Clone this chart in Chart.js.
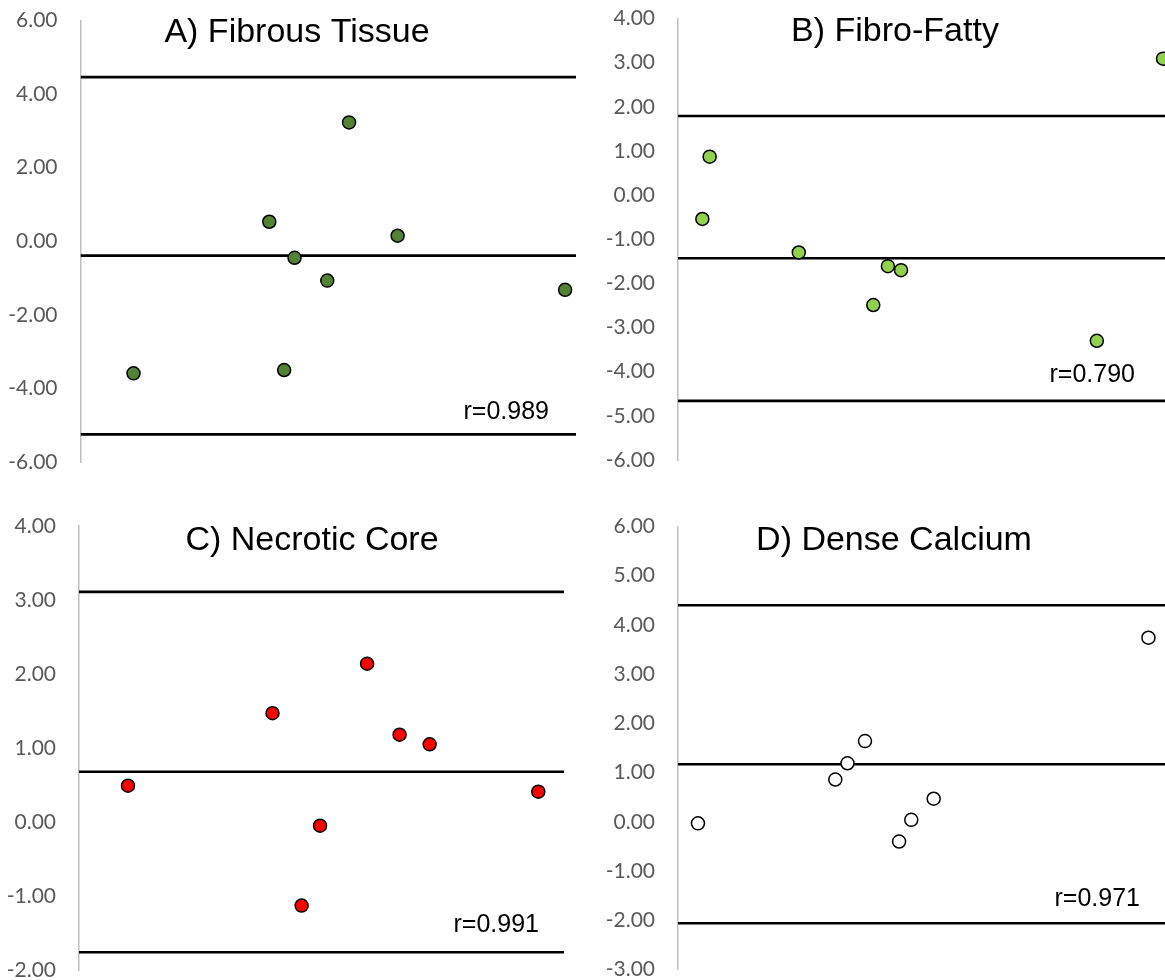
<!DOCTYPE html>
<html>
<head>
<meta charset="utf-8">
<script src="https://cdn.jsdelivr.net/npm/chart.js@4.4.1/dist/chart.umd.min.js"></script>
<style>
  body { margin: 0; background: #fff; }
  #wrap { position: relative; width: 1165px; height: 980px; overflow: hidden; }
  .cell { position: absolute; }
</style>
</head>
<body>
<div id="wrap">
  <div class="cell" style="left:0;top:0"><canvas id="chartA" width="582" height="490"></canvas></div>
  <div class="cell" style="left:582px;top:0"><canvas id="chartB" width="583" height="490"></canvas></div>
  <div class="cell" style="left:0;top:490px"><canvas id="chartC" width="582" height="490"></canvas></div>
  <div class="cell" style="left:582px;top:490px"><canvas id="chartD" width="583" height="490"></canvas></div>
</div>
<script>
// x = mean of the two measurements (arbitrary 0-100 scale, no axis shown), y = difference
const xRange = [0, 100];

// A) Fibrous Tissue
const fibrousX = [10.7, 38.1, 41.1, 43.2, 49.8, 54.2, 64.0, 97.8];
const fibrousDiff = [-3.59, 0.53, -3.50, -0.45, -1.07, 3.23, 0.15, -1.32];
const fibrousLimits = [4.46, -0.39, -5.25]; // upper LoA, mean, lower LoA

// B) Fibro-Fatty
const fattyX = [5.0, 6.5, 24.8, 40.1, 43.1, 45.8, 86.0, 99.6];
const fattyDiff = [-0.54, 0.87, -1.30, -2.49, -1.61, -1.70, -3.30, 3.09];
const fattyLimits = [1.79, -1.43, -4.66];

// C) Necrotic Core
const necroticX = [10.1, 39.9, 45.9, 49.7, 59.4, 66.1, 72.3, 94.7];
const necroticDiff = [0.49, 1.47, -1.13, -0.05, 2.14, 1.18, 1.05, 0.41];
const necroticLimits = [3.11, 0.68, -1.76];

// D) Dense Calcium
const calciumX = [4.1, 32.3, 34.8, 38.4, 45.4, 47.9, 52.5, 96.6];
const calciumDiff = [-0.03, 0.86, 1.19, 1.64, -0.40, 0.04, 0.47, 3.74];
const calciumLimits = [4.40, 1.17, -2.06];

// overlay text: title and correlation
const textPlugin = {
  id: 'panelText',
  afterDraw(chart, args, opts) {
    const c = chart.ctx;
    c.save();
    c.fillStyle = '#000';
    c.textBaseline = 'alphabetic';
    c.font = '34px "Liberation Sans", Arial, sans-serif';
    c.textAlign = 'center';
    c.fillText(opts.title, opts.titleX, opts.titleY);
    c.font = '25px "Liberation Sans", Arial, sans-serif';
    c.textAlign = 'right';
    c.fillText(opts.r, opts.rX, opts.rY);
    c.restore();
  }
};

function makePanel(id, p) {
  const pts = p.x.map((x, i) => ({ x: x, y: p.y[i] }));
  const limitSets = p.limits.map(v => ({
    type: 'line',
    data: [{ x: xRange[0], y: v }, { x: xRange[1], y: v }],
    borderColor: '#000',
    borderWidth: 2.6,
    pointRadius: 0,
    fill: false
  }));
  return new Chart(document.getElementById(id), {
    type: 'scatter',
    data: {
      datasets: [{
        data: pts,
        backgroundColor: p.color,
        borderColor: '#000',
        borderWidth: 1.5,
        pointRadius: 6.5,
        clip: false
      }].concat(limitSets)
    },
    options: {
      responsive: false,
      animation: false,
      layout: { padding: p.pad, autoPadding: false },
      plugins: {
        legend: { display: false },
        tooltip: { enabled: false },
        panelText: p.text
      },
      scales: {
        x: { type: 'linear', display: false, min: xRange[0], max: xRange[1] },
        y: {
          min: p.min, max: p.max,
          afterFit: s => { s.width = p.axisX; s.paddingTop = 0; s.paddingBottom = 0; },
          grid: { display: false, drawTicks: false },
          border: { display: true, color: '#BFBFBF', width: 1.5 },
          ticks: {
            stepSize: p.step,
            padding: 23,
            color: '#595959',
            font: { family: 'Lato', size: 21 },
            callback: v => v.toFixed(2)
          }
        }
      }
    },
    plugins: [textPlugin]
  });
}

makePanel('chartA', {
  x: fibrousX, y: fibrousDiff, limits: fibrousLimits, color: '#538135',
  min: -6, max: 6, step: 2, axisX: 80.5,
  pad: { left: 0, top: 20.5, right: 6, bottom: 28 },
  text: { title: 'A) Fibrous Tissue', titleX: 297, titleY: 42, r: 'r=0.989', rX: 549, rY: 419 }
});
makePanel('chartB', {
  x: fattyX, y: fattyDiff, limits: fattyLimits, color: '#92D050',
  min: -6, max: 4, step: 1, axisX: 96,
  pad: { left: 0, top: 18.5, right: 0, bottom: 30 },
  text: { title: 'B) Fibro-Fatty', titleX: 313, titleY: 41, r: 'r=0.790', rX: 553, rY: 382 }
});
makePanel('chartC', {
  x: necroticX, y: necroticDiff, limits: necroticLimits, color: '#FF0000',
  min: -2, max: 4, step: 1, axisX: 79,
  pad: { left: 0, top: 36, right: 18, bottom: 10 },
  text: { title: 'C) Necrotic Core', titleX: 312, titleY: 60, r: 'r=0.991', rX: 539, rY: 442 }
});
makePanel('chartD', {
  x: calciumX, y: calciumDiff, limits: calciumLimits, color: '#FFFFFF',
  min: -3, max: 6, step: 1, axisX: 96,
  pad: { left: 0, top: 36.5, right: 0, bottom: 10.5 },
  text: { title: 'D) Dense Calcium', titleX: 312, titleY: 60, r: 'r=0.971', rX: 558, rY: 416 }
});
</script>
</body>
</html>
